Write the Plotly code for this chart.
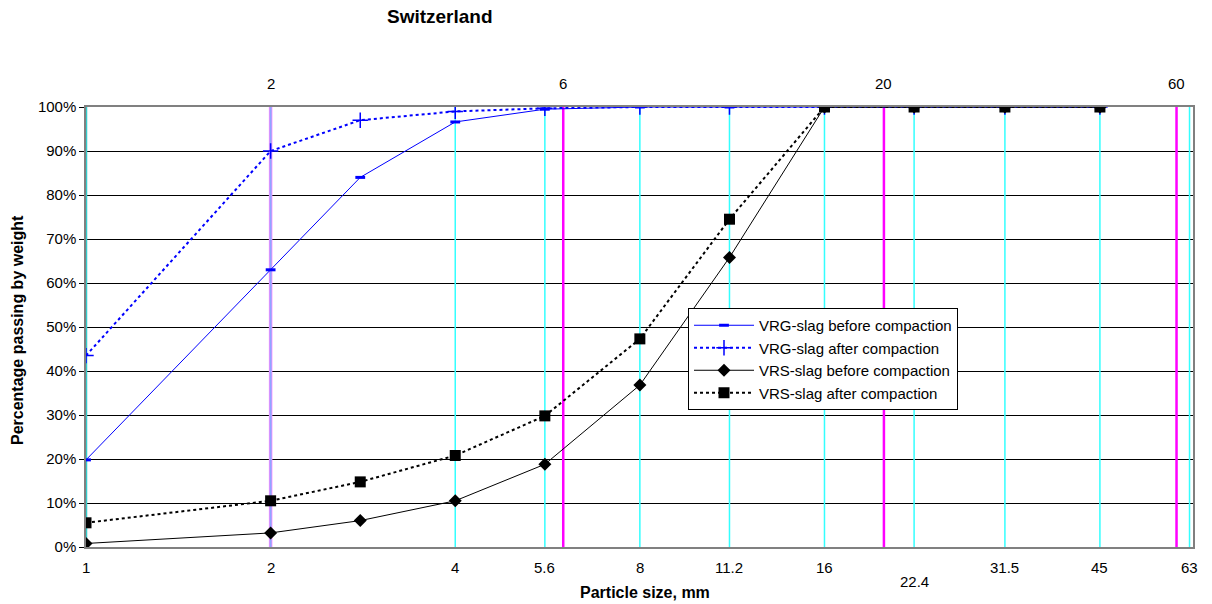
import numpy as np
import plotly.graph_objects as go

# ---- data ----
sieve_sizes = [1, 2, 2.8, 4, 5.6, 8, 11.2, 16, 22.4, 31.5, 45]
vrg_before = [19.8, 63.0, 84.0, 96.6, 99.5, 100, 100, 100, 100, 100, 100]
vrg_after = [43.5, 90.0, 97.0, 99.0, 99.7, 100, 100, 100, 100, 100, 100]
vrs_before = [0.8, 3.2, 6.0, 10.5, 18.8, 36.8, 65.8, 100, 100, 100, 100]
vrs_after = [5.5, 10.5, 14.8, 20.8, 29.8, 47.3, 74.5, 100, 100, 100, 100]

bottom_ticks = [1, 2, 4, 5.6, 8, 11.2, 16, 22.4, 31.5, 45, 63]
bottom_labels = ["1", "2", "4", "5.6", "8", "11.2", "16", "22.4", "31.5", "45", "63"]
top_ticks = [2, 6, 20, 60]
top_labels = ["2", "6", "20", "60"]
cyan_lines = [4, 5.6, 8, 11.2, 16, 22.4, 31.5, 45, 63]
magenta_lines = [6, 20, 60]

FONT = "Arial, Liberation Sans, sans-serif"
W, H = 1212, 604
ML, MR, MT, MB = 86, 19, 107, 57

fig = go.Figure()

def vline(x, color, width):
    fig.add_trace(go.Scatter(x=[x, x], y=[0, 100], mode="lines",
                             line=dict(color=color, width=width),
                             showlegend=False, hoverinfo="skip"))

for v in cyan_lines:
    vline(v, "#33ffff", 1.5)
vline(1, "#33cccc", 2.5)
for v in magenta_lines:
    vline(v, "#ff00ff", 2.5)
vline(2, "#ff88ff", 3.5)
vline(2, "#8fa8ff", 2)

fig.add_trace(go.Scatter(x=sieve_sizes, y=vrg_before, mode="lines+markers",
                         name="VRG-slag before compaction",
                         line=dict(color="#0000ff", width=1),
                         marker=dict(symbol="line-ew", size=7,
                                     line=dict(color="#0000ff", width=3))))
fig.add_trace(go.Scatter(x=sieve_sizes, y=vrg_after, mode="lines+markers",
                         name="VRG-slag after compaction",
                         line=dict(color="#0000ff", width=2, dash="dot"),
                         marker=dict(symbol="cross-thin", size=11,
                                     line=dict(color="#0000ff", width=1.5))))
fig.add_trace(go.Scatter(x=sieve_sizes, y=vrs_before, mode="lines+markers",
                         name="VRS-slag before compaction",
                         line=dict(color="#000000", width=1),
                         marker=dict(symbol="diamond", size=10, color="#000000")))
fig.add_trace(go.Scatter(x=sieve_sizes, y=vrs_after, mode="lines+markers",
                         name="VRS-slag after compaction",
                         line=dict(color="#000000", width=2, dash="dot"),
                         marker=dict(symbol="square", size=11, color="#000000")))

ann = []
for v, t in zip(bottom_ticks, bottom_labels):
    ann.append(dict(x=np.log10(v), y=0, xref="x", yref="y", text=t, showarrow=False,
                    yanchor="top", yshift=-10 if t != "22.4" else -24,
                    font=dict(family=FONT, size=15, color="#000")))
for v, t in zip(top_ticks, top_labels):
    ann.append(dict(x=np.log10(v), y=100, xref="x", yref="y", text=t, showarrow=False,
                    yanchor="bottom", yshift=13,
                    font=dict(family=FONT, size=15, color="#000")))
pw = W - ML - MR
ph = H - MT - MB
ann.append(dict(x=(440 - ML) / pw, y=1 + (MT - 17) / ph, xref="paper", yref="paper",
                text="<b>Switzerland</b>", showarrow=False, xanchor="center", yanchor="middle",
                font=dict(family=FONT, size=19, color="#000")))
ann.append(dict(x=(645 - ML) / pw, y=-(592 - (H - MB)) / ph, xref="paper", yref="paper",
                text="<b>Particle size, mm</b>", showarrow=False, xanchor="center", yanchor="middle",
                font=dict(family=FONT, size=16, color="#000")))
ann.append(dict(x=-(ML - 17) / pw, y=(547 - 330) / ph, xref="paper", yref="paper",
                text="<b>Percentage passing by weight</b>", showarrow=False, textangle=-90,
                xanchor="center", yanchor="middle",
                font=dict(family=FONT, size=16, color="#000")))

fig.update_layout(
    width=W, height=H,
    margin=dict(l=ML, r=MR, t=MT, b=MB),
    paper_bgcolor="white", plot_bgcolor="white",
    font=dict(family=FONT, size=15, color="#000"),
    annotations=ann,
    legend=dict(x=(688 - ML) / pw, y=(547 - 308) / ph, xanchor="left", yanchor="top",
                bgcolor="white", bordercolor="#000", borderwidth=1,
                font=dict(family=FONT, size=15, color="#000"),
                tracegroupgap=0, itemwidth=60),
    xaxis=dict(type="log", range=[0, 1.805], showgrid=False, showticklabels=False,
               ticks="", showline=True, linecolor="#808080", linewidth=1.5, mirror=True,
               zeroline=False),
    yaxis=dict(range=[0, 100], tickvals=list(range(0, 101, 10)),
               ticktext=[f"{v}%" for v in range(0, 101, 10)],
               showgrid=True, gridcolor="#000", gridwidth=1,
               ticks="outside", ticklen=5, tickcolor="#000",
               showline=True, linecolor="#808080", linewidth=1.5, mirror=True,
               zeroline=False, tickfont=dict(family=FONT, size=15, color="#000")),
    showlegend=True,
)

fig.write_html("out.html")
